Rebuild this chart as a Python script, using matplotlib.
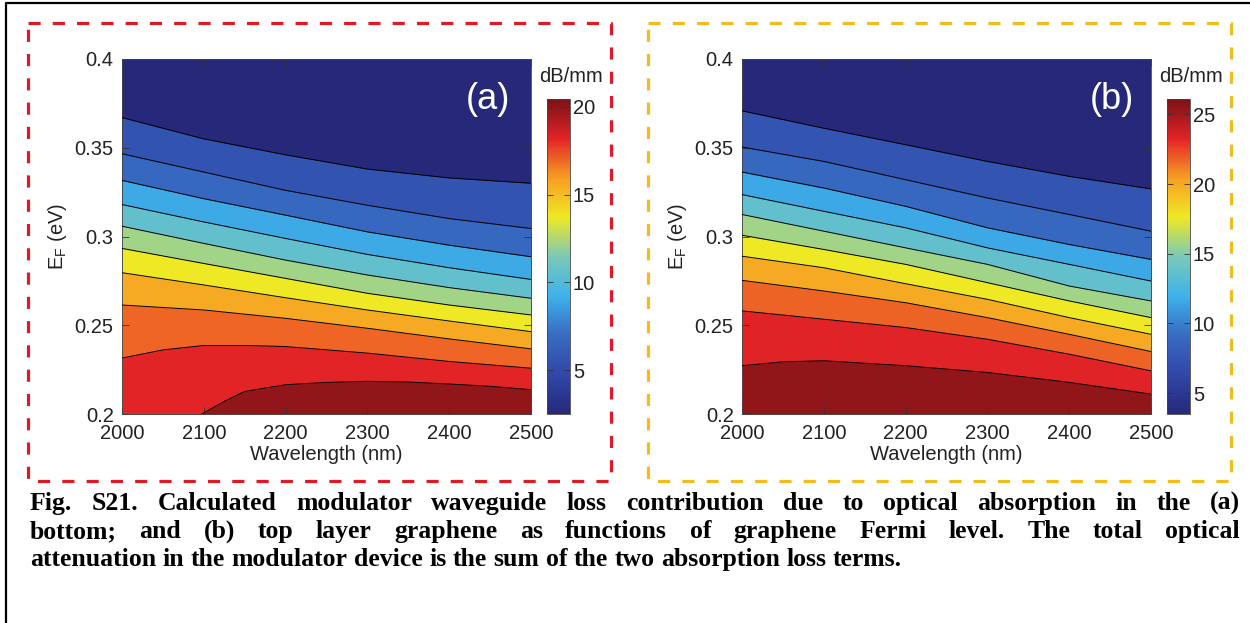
import numpy as np
import matplotlib
matplotlib.use('Agg')
import matplotlib.pyplot as plt
from matplotlib.colors import LinearSegmentedColormap, Normalize
from matplotlib.cm import ScalarMappable
from matplotlib.lines import Line2D

# ---------------- data ----------------
wavelength = [2000, 2100, 2200, 2300, 2400, 2500]

# contour boundary lines, E_F (eV) at each wavelength, panel (a)
lines_a = [
    [0.367, 0.355, 0.346, 0.338, 0.333, 0.330],
    [0.3466, 0.3363, 0.326, 0.3176, 0.3101, 0.3045],
    [0.3316, 0.3213, 0.312, 0.3026, 0.2951, 0.2886],
    [0.318, 0.3082, 0.2989, 0.2899, 0.2824, 0.2758],
    [0.3058, 0.2961, 0.2867, 0.2783, 0.2712, 0.2652],
    [0.2933, 0.2848, 0.2764, 0.268, 0.2614, 0.2558],
    [0.2796, 0.2727, 0.2655, 0.2586, 0.2524, 0.2464],
    [0.2614, 0.2586, 0.2539, 0.2483, 0.2423, 0.2367],
]
line9_a_wl = [2000, 2050, 2100, 2150, 2200, 2300, 2400, 2500]
line9_a = [0.2315, 0.2361, 0.2386, 0.2386, 0.238, 0.2343, 0.2296, 0.2258]
dome_a_wl = [2097.5, 2125, 2150, 2200, 2250, 2300, 2350, 2400, 2450, 2500]
dome_a = [0.200, 0.2071, 0.2127, 0.2165, 0.2178, 0.2184, 0.218, 0.2169, 0.2156, 0.2137]

# panel (b)
lines_b = [
    [0.3708, 0.361, 0.3517, 0.3423, 0.3339, 0.3268],
    [0.3504, 0.3423, 0.332, 0.3217, 0.3124, 0.303],
    [0.3363, 0.3273, 0.317, 0.3049, 0.2955, 0.2871],
    [0.3236, 0.3142, 0.3049, 0.2936, 0.2843, 0.2749],
    [0.3124, 0.303, 0.2936, 0.2843, 0.2721, 0.2637],
    [0.3007, 0.2927, 0.2843, 0.274, 0.2637, 0.2543],
    [0.2889, 0.2824, 0.2734, 0.2646, 0.2543, 0.2449],
    [0.2753, 0.2693, 0.2627, 0.2543, 0.2449, 0.2352],
    [0.2581, 0.2534, 0.2487, 0.2421, 0.2337, 0.2243],
]
line10_b_wl = [2000, 2050, 2100, 2200, 2300, 2400, 2500]
line10_b = [0.2272, 0.2294, 0.2300, 0.2272, 0.2234, 0.2178, 0.2112]

# colour scale (dB/mm): colour-bar range and the value of each filled band
clim_a = [2.5, 20.45]
clim_b = [3.5, 26.1]
levels_a = [5.5, 6.8, 9.0, 10.6, 12.2, 13.7, 15.6, 17.0, 18.2, 19.9]
levels_b = [7.3, 8.9, 11.6, 13.7, 15.7, 17.6, 20.0, 21.8, 23.3, 25.4]
cbar_ticks_a = [5, 10, 15, 20]
cbar_ticks_b = [5, 10, 15, 20, 25]

xticks = [2000, 2100, 2200, 2300, 2400, 2500]
yticks = [0.2, 0.25, 0.3, 0.35, 0.4]
yticklabels = ['0.2', '0.25', '0.3', '0.35', '0.4']

caption = [
    "Fig. S21. Calculated modulator waveguide loss contribution due to optical absorption in the (a)",
    "bottom; and (b) top layer graphene as functions of graphene Fermi level. The total optical",
    "attenuation in the modulator device is the sum of the two absorption loss terms.",
]

# ---------------- styling ----------------
W, H = 1250, 623
plt.rcParams['font.family'] = ['Liberation Sans', 'DejaVu Sans']
fig = plt.figure(figsize=(W / 100, H / 100), dpi=100)
fig.patch.set_facecolor('white')

jet_muted = LinearSegmentedColormap.from_list('jet_muted', [
    (0.000, (0.15, 0.16, 0.48)),
    (0.125, (0.19, 0.28, 0.66)),
    (0.250, (0.22, 0.42, 0.76)),
    (0.375, (0.24, 0.70, 0.92)),
    (0.500, (0.48, 0.79, 0.72)),
    (0.625, (0.94, 0.91, 0.14)),
    (0.750, (0.97, 0.62, 0.14)),
    (0.875, (0.89, 0.14, 0.15)),
    (1.000, (0.48, 0.07, 0.09)),
])

FS = 14.5
TXT = '#222222'


def px(x, y):
    return x / W, 1 - y / H


def panel(left_px, lines, extra, clim, levels, cticks, tag, tagx):
    ax = fig.add_axes([left_px / W, 1 - 414 / H, 409 / W, 355 / H])
    norm = Normalize(*clim)
    band_vals = [clim[0]] + list(levels)
    cols = [jet_muted(norm(v)) for v in band_vals]
    ax.set_facecolor(cols[0])
    ax.axhspan(0.2, 0.4, color=cols[0], lw=0, zorder=0)
    all_lines = [(wavelength, l) for l in lines] + extra
    for i, (xs, ys) in enumerate(all_lines):
        ax.fill_between(xs, 0.2, ys, color=cols[i + 1], lw=0, zorder=1 + i * 0.01)
    for xs, ys in all_lines:
        ax.plot(xs, ys, color='black', lw=0.7, zorder=5)
    ax.set_xlim(2000, 2500)
    ax.set_ylim(0.2, 0.4)
    ax.set_xticks(xticks)
    ax.set_yticks(yticks)
    ax.set_yticklabels(yticklabels)
    ax.tick_params(direction='in', length=5, width=0.6, colors='#333333',
                   labelcolor=TXT, labelsize=FS, top=True, right=True, pad=7)
    ax.tick_params(axis='y', pad=6)
    for s in ax.spines.values():
        s.set_linewidth(0.6)
        s.set_color('#444444')
    ax.set_xlabel('Wavelength (nm)', fontsize=FS, color=TXT, labelpad=2)
    ax.set_ylabel(r'E$_\mathregular{F}$ (eV)', fontsize=FS, color=TXT, labelpad=4)
    ax.text(tagx, 0.887, tag, transform=ax.transAxes, color='white', fontsize=26,
            ha='center', va='center', zorder=10)

    cl = left_px + 425
    cax = fig.add_axes([cl / W, 1 - 414 / H, 23 / W, 315 / H])
    cb = fig.colorbar(ScalarMappable(norm=norm, cmap=jet_muted), cax=cax)
    cb.set_ticks(cticks)
    cax.yaxis.set_ticks_position('both')
    cax.tick_params(direction='in', length=4, width=0.6, colors='#333333',
                    labelcolor=TXT, labelsize=FS, pad=2, labelright=True, labelleft=False)
    cb.outline.set_linewidth(0.6)
    cb.outline.set_edgecolor('#444444')
    fig.text(*px(cl + 24, 77), 'dB/mm', fontsize=FS, color=TXT, ha='center', va='center')
    return ax


panel(122, lines_a, [(line9_a_wl, line9_a), (dome_a_wl, dome_a)], clim_a, levels_a,
      cbar_ticks_a, '(a)', 0.894)
panel(742, lines_b, [(line10_b_wl, line10_b)], clim_b, levels_b,
      cbar_ticks_b, '(b)', 0.905)


# dashed frames
def box(x0, y0, x1, y1, color):
    xs = [x0, x1, x1, x0, x0]
    ys = [y0, y0, y1, y1, y0]
    fx = [x / W for x in xs]
    fy = [1 - y / H for y in ys]
    fig.add_artist(Line2D(fx, fy, color=color, lw=2.3, dashes=(3.8, 3.8),
                          transform=fig.transFigure))


box(28, 23, 611, 481, '#de1a24')
box(648, 23, 1231, 481, '#f0bd1c')

# outer frame (top and left edges)
fig.add_artist(Line2D([6 / W, 6 / W, 1.0], [0.0, 1 - 3 / H, 1 - 3 / H], color='black',
                      lw=1.6, transform=fig.transFigure))

# caption (justified)
renderer = fig.canvas.get_renderer()
cap_kw = dict(fontsize=18.5, fontweight='bold', family=['Liberation Serif', 'DejaVu Serif'],
              color='black', va='baseline', ha='left')
x0, x1 = 30, 1240
ys = [510, 538, 566]
for li, (line, yy) in enumerate(zip(caption, ys)):
    words = line.split(' ')
    texts = [fig.text(0, 1 - yy / H, w, **cap_kw) for w in words]
    widths = [t.get_window_extent(renderer).width for t in texts]
    if li < 2:
        gap = (x1 - x0 - sum(widths)) / (len(words) - 1)
    else:
        t1 = fig.text(0, 0, 'a a', **cap_kw)
        t2 = fig.text(0, 0, 'aa', **cap_kw)
        gap = t1.get_window_extent(renderer).width - t2.get_window_extent(renderer).width
        t1.remove()
        t2.remove()
    x = x0
    for t, w in zip(texts, widths):
        t.set_x(x / W)
        x += w + gap

fig.savefig('out.png', dpi=100)
